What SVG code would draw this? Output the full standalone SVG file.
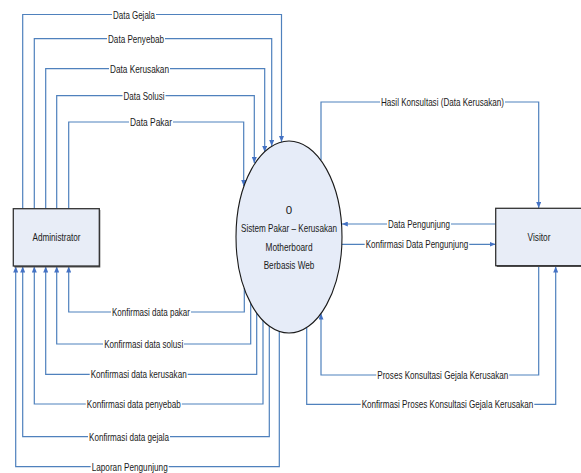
<svg xmlns="http://www.w3.org/2000/svg" width="581" height="473" viewBox="0 0 581 473">
<style>
.ln{fill:none;stroke:#4f81bd;stroke-width:1.2}
.bg{fill:#fff}
.t{font-family:"Liberation Sans",Arial,sans-serif;font-size:11.5px;fill:#1a1a1a;text-anchor:middle}
.box{fill:#e8edf7;stroke:#333;stroke-width:1.3}
.sh{fill:#555}
</style>
<defs>
<marker id="a" viewBox="0 0 6 5" refX="6" refY="2.5" markerWidth="6" markerHeight="5" markerUnits="userSpaceOnUse" orient="auto">
<path d="M0,0 L6,2.5 L0,5 z" fill="#4472c4"/>
</marker>
</defs>
<rect width="581" height="473" fill="#fff"/>
<g id="connectors">
<path class="ln" d="M22.7,208.7 V14.5 H281.5 V142" marker-end="url(#a)"/>
<path class="ln" d="M34.3,208.7 V38.7 H271.7 V146" marker-end="url(#a)"/>
<path class="ln" d="M45.7,208.7 V68.7 H264.7 V152" marker-end="url(#a)"/>
<path class="ln" d="M56.7,208.7 V95.7 H254.3 V163" marker-end="url(#a)"/>
<path class="ln" d="M68.7,208.7 V122 H243.7 V186" marker-end="url(#a)"/>
<path class="ln" d="M244.3,288 V312 H68.7 V266.5" marker-end="url(#a)"/>
<path class="ln" d="M250.7,303 V344 H56.7 V266.5" marker-end="url(#a)"/>
<path class="ln" d="M256.7,313 V374.3 H45.7 V266.5" marker-end="url(#a)"/>
<path class="ln" d="M263,320.6 V404 H34.3 V266.5" marker-end="url(#a)"/>
<path class="ln" d="M269.3,326 V436.7 H22.7 V266.5" marker-end="url(#a)"/>
<path class="ln" d="M279.3,331.4 V466.7 H15.7 V266.5" marker-end="url(#a)"/>
<path class="ln" d="M321,160 V102 H538.7 V208" marker-end="url(#a)"/>
<path class="ln" d="M495.7,224 H341.8" marker-end="url(#a)"/>
<path class="ln" d="M341.8,244.3 H495.5" marker-end="url(#a)"/>
<path class="ln" d="M538.7,266 V375 H321 V313.5" marker-end="url(#a)"/>
<path class="ln" d="M306.7,327.5 V404.3 H555.7 V266.5" marker-end="url(#a)"/>
<g id="labels">
<rect class="bg" x="112" y="9" width="44" height="11"/>
<text class="t" x="134" y="18.6" textLength="42" lengthAdjust="spacingAndGlyphs">Data Gejala</text>
<rect class="bg" x="107" y="33" width="58" height="11"/>
<text class="t" x="136" y="42.8" textLength="56" lengthAdjust="spacingAndGlyphs">Data Penyebab</text>
<rect class="bg" x="109" y="63" width="61" height="11"/>
<text class="t" x="139.5" y="72.8" textLength="59" lengthAdjust="spacingAndGlyphs">Data Kerusakan</text>
<rect class="bg" x="122.5" y="90" width="43" height="11"/>
<text class="t" x="144" y="99.8" textLength="41" lengthAdjust="spacingAndGlyphs">Data Solusi</text>
<rect class="bg" x="129" y="116.5" width="44" height="11"/>
<text class="t" x="151" y="126.1" textLength="42" lengthAdjust="spacingAndGlyphs">Data Pakar</text>
<rect class="bg" x="111" y="306.5" width="80" height="11"/>
<text class="t" x="151" y="316.1" textLength="78" lengthAdjust="spacingAndGlyphs">Konfirmasi data pakar</text>
<rect class="bg" x="103" y="338.5" width="81" height="11"/>
<text class="t" x="143.7" y="348.1" textLength="79" lengthAdjust="spacingAndGlyphs">Konfirmasi data solusi</text>
<rect class="bg" x="89.7" y="368.8" width="98" height="11"/>
<text class="t" x="138.7" y="378.4" textLength="96" lengthAdjust="spacingAndGlyphs">Konfirmasi data kerusakan</text>
<rect class="bg" x="85.8" y="398.5" width="96" height="11"/>
<text class="t" x="133.8" y="408.1" textLength="94" lengthAdjust="spacingAndGlyphs">Konfirmasi data penyebab</text>
<rect class="bg" x="88" y="431.2" width="82" height="11"/>
<text class="t" x="129" y="440.8" textLength="80" lengthAdjust="spacingAndGlyphs">Konfirmasi data gejala</text>
<rect class="bg" x="90.7" y="461.2" width="78" height="11"/>
<text class="t" x="129.7" y="470.8" textLength="76" lengthAdjust="spacingAndGlyphs">Laporan Pengunjung</text>
<rect class="bg" x="380" y="96.5" width="125" height="11"/>
<text class="t" x="442.5" y="106.1" textLength="123" lengthAdjust="spacingAndGlyphs">Hasil Konsultasi (Data Kerusakan)</text>
<rect class="bg" x="387" y="218.5" width="64" height="11"/>
<text class="t" x="419" y="228.1" textLength="62" lengthAdjust="spacingAndGlyphs">Data Pengunjung</text>
<rect class="bg" x="364.7" y="238.8" width="104.6" height="11"/>
<text class="t" x="417" y="248.4" textLength="102.6" lengthAdjust="spacingAndGlyphs">Konfirmasi Data Pengunjung</text>
<rect class="bg" x="376.3" y="369.5" width="133" height="11"/>
<text class="t" x="442.8" y="379.1" textLength="131" lengthAdjust="spacingAndGlyphs">Proses Konsultasi Gejala Kerusakan</text>
<rect class="bg" x="360.7" y="398.8" width="173.6" height="11"/>
<text class="t" x="447.5" y="408.4" textLength="171.6" lengthAdjust="spacingAndGlyphs">Konfirmasi Proses Konsultasi Gejala Kerusakan</text>
</g>
</g>
<g id="administrator">
<rect class="sh" x="14.3" y="210" width="86" height="57.5"/>
<rect class="box" x="13.3" y="208.7" width="86" height="57.3"/>
<text class="t" x="56.5" y="240.8" textLength="48" lengthAdjust="spacingAndGlyphs">Administrator</text>
</g>
<g id="visitor">
<rect class="sh" x="496.7" y="210" width="90" height="57"/>
<rect class="box" x="495.7" y="208.3" width="90" height="57.4"/>
<text class="t" x="539" y="241.1" textLength="23" lengthAdjust="spacingAndGlyphs">Visitor</text>
</g>
<g id="system">
<ellipse cx="289" cy="237" rx="53" ry="96" fill="#e6ecf8" stroke="#1a1a1a" stroke-width="1.1"/>
<text class="t" x="289" y="214.1">0</text>
<text class="t" x="289" y="232.1" textLength="96" lengthAdjust="spacingAndGlyphs">Sistem Pakar – Kerusakan</text>
<text class="t" x="289" y="250.8" textLength="47" lengthAdjust="spacingAndGlyphs">Motherboard</text>
<text class="t" x="289" y="269.1" textLength="50.7" lengthAdjust="spacingAndGlyphs">Berbasis Web</text>
</g>
</svg>
